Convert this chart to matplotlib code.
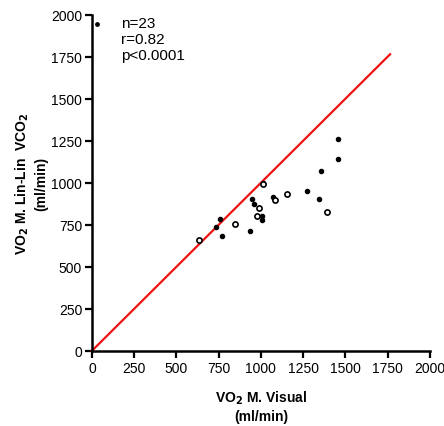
import matplotlib
matplotlib.use("Agg")
import matplotlib.pyplot as plt

plt.rcParams['font.family'] = ['Liberation Sans', 'DejaVu Sans']

# data (ml/min)
visual_open = [633, 846, 988, 975, 1010, 1083, 1152, 1389]
linlin_open = [662, 756, 851, 805, 994, 900, 935, 829]
visual_fill = [757, 734, 769, 935, 947, 959, 1004, 1004, 1069, 1276, 1345, 1355, 1457, 1457, 1010]
linlin_fill = [786, 738, 686, 714, 905, 875, 805, 776, 915, 950, 905, 1070, 1139, 1262, 1000]
identity = [0, 1765]
xticks = [0, 250, 500, 750, 1000, 1250, 1500, 1750, 2000]
yticks = [0, 250, 500, 750, 1000, 1250, 1500, 1750, 2000]
stats_text = "n=23\nr=0.82\np<0.0001"

fig = plt.figure(figsize=(4.44, 4.27), dpi=100)
ax = fig.add_axes([0.207, 0.176, 0.761, 0.787])

ax.plot(identity, identity, color='#ee1111', lw=1.6, zorder=2, clip_on=False)
ax.scatter(visual_fill, linlin_fill, s=10, marker='o', facecolor='black',
           edgecolor='black', linewidth=0.8, zorder=3, clip_on=False)
ax.scatter(visual_open, linlin_open, s=14, marker='o', facecolor='white',
           edgecolor='black', linewidth=1.2, zorder=4, clip_on=False)
# legend symbol
ax.scatter([28], [1945], s=6, marker='o', color='black', zorder=4, clip_on=False)

ax.set_xlim(0, 2000)
ax.set_ylim(0, 2000)
ax.set_xticks(xticks)
ax.set_yticks(yticks)
for s in ['top', 'right']:
    ax.spines[s].set_visible(False)
for s in ['left', 'bottom']:
    ax.spines[s].set_linewidth(1.8)
ax.tick_params(direction='out', length=5, width=1.6, labelsize=10, pad=2)

ax.set_xlabel("VO$_\\mathbf{2}$ M. Visual\n(ml/min)", fontsize=10, fontweight='bold',
              labelpad=10, linespacing=1.3)
ax.set_ylabel("VO$_\\mathbf{2}$ M. Lin-Lin  VCO$_\\mathbf{2}$\n(ml/min)", fontsize=10,
              fontweight='bold', labelpad=2, linespacing=1.3)

ax.text(0.085, 0.995, stats_text, transform=ax.transAxes, fontsize=11,
        va='top', ha='left', linespacing=1.15)

fig.savefig("out.png", dpi=100)
